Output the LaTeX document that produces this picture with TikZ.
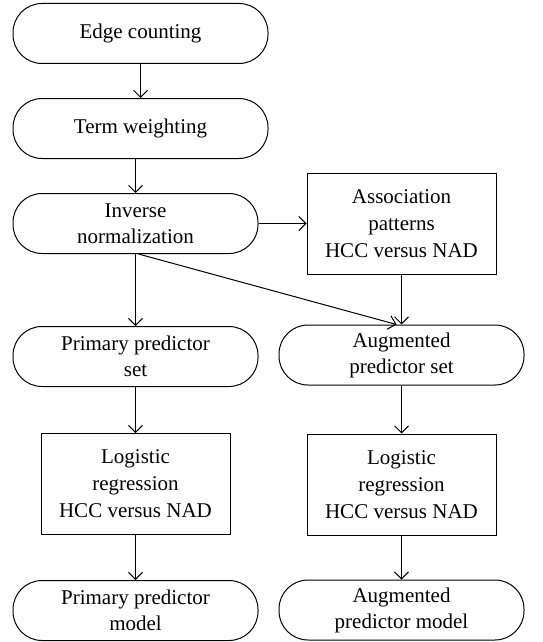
\documentclass[tikz,border=0pt]{standalone}
\usepackage{fontspec}
\setmainfont{Liberation Serif}
\usetikzlibrary{arrows.meta, positioning}
\tikzstyle{startstop} = [rectangle, rounded corners=29pt, 
minimum width=245pt, 
minimum height=60pt,
text centered, align=center,
line width=1pt, draw=black,
font=\fontsize{21}{26}\selectfont]
\tikzstyle{process} = [rectangle, 
minimum width=189pt, 
minimum height=101pt,
text centered, align=center,
line width=1pt, draw=black,
font=\fontsize{21}{27}\selectfont]
\tikzstyle{arrow} = [line width=1pt,-{Straight Barb[length=7pt,width=14pt]}]

\begin{document}
\begin{tikzpicture}
\useasboundingbox (0,0) rectangle (543pt,-642pt);
\node (edge) [startstop, minimum width=255pt] at (140.5pt,-33.5pt) {Edge counting};
\node (term) [startstop, minimum width=255pt, below=34pt of edge] {Term weighting};
\node (inv) [startstop, below=34pt of term, xshift=-5pt] {Inverse\\normalization};
\node (assoc) [process, right=48pt of inv] {Association\\patterns\\HCC versus NAD};
%left column
\node (primset) [startstop, below=72pt of inv] {Primary predictor\\set};
\node (primlr) [process, below=46pt of primset] {Logistic\\regression\\HCC versus NAD};
\node (primmod) [startstop, below=45pt of primlr] {Primary predictor\\model};
%right column
\node (augset) [startstop, below=50pt of assoc] {Augmented\\predictor set};
\node (auglr) [process, below=48pt of augset] {Logistic\\regression\\HCC versus NAD};
\node (augmod) [startstop, below=44pt of auglr] {Augmented\\predictor model};

\draw [arrow] (edge) -- (term);
\draw [arrow] ([xshift=-5pt]term.south) -- (inv);
\draw [arrow] (inv) -- (assoc);
\draw [arrow] (inv) -- (primset);
\draw [arrow] ([xshift=3pt]inv.south) -- ([xshift=-5pt]augset.north);
\draw [arrow] (assoc) -- (augset);
\draw [arrow] (primset) -- (primlr);
\draw [arrow] (primlr) -- (primmod);
\draw [arrow] (augset) -- (auglr);
\draw [arrow] (auglr) -- (augmod);
\end{tikzpicture}
\end{document}
